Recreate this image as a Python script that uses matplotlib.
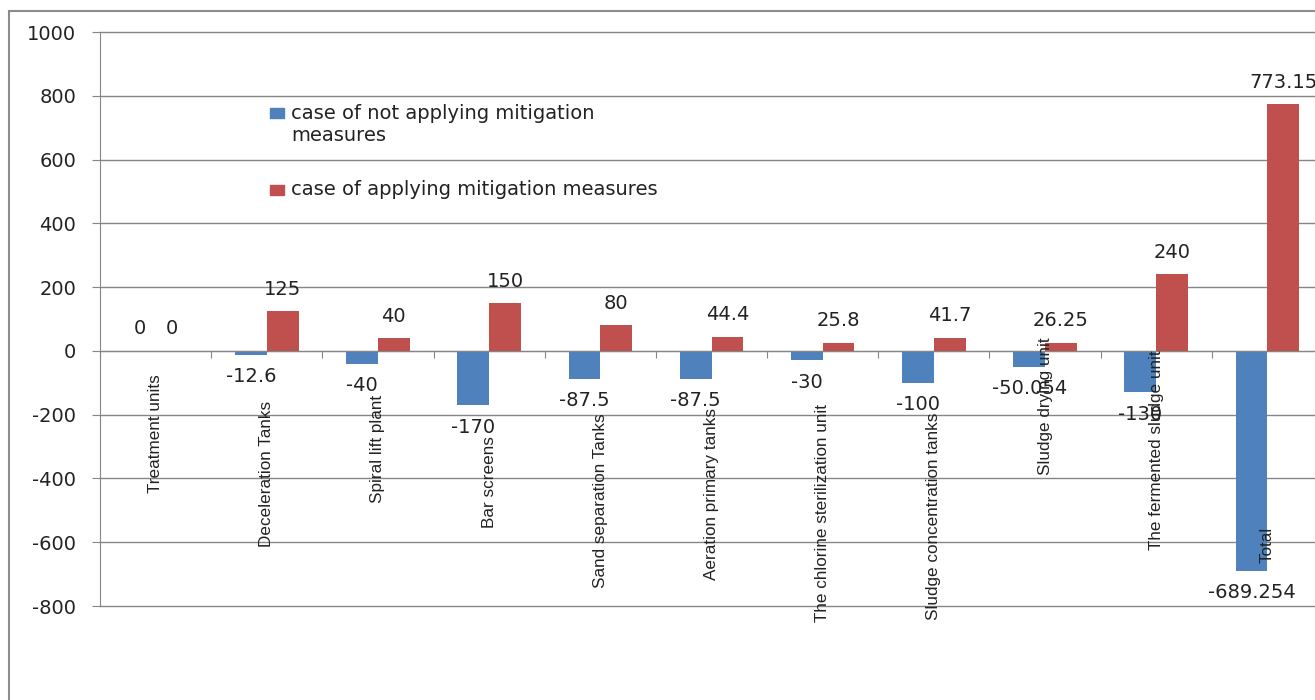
import numpy as np
import matplotlib
matplotlib.use("Agg")
from matplotlib import pyplot as plt
from matplotlib.patches import Rectangle

plt.rcParams['axes.unicode_minus'] = False
plt.rcParams['font.family'] = ['DejaVu Sans']

# data
units = ['Treatment units', 'Deceleration Tanks', 'Spiral lift plant', 'Bar screens',
         'Sand separation Tanks', 'Aeration primary tanks', 'The chlorine sterilization unit',
         'Sludge concentration tanks', 'Sludge drying unit', 'The fermented sludge unit', 'Total']
not_applying = [0, -12.6, -40, -170, -87.5, -87.5, -30, -100, -50.054, -130, -689.254]
applying = [0, 125, 40, 150, 80, 44.4, 25.8, 41.7, 26.25, 240, 773.15]
series_names = ['case of not applying mitigation\nmeasures', 'case of applying mitigation measures']

# where the rotated category labels end (bottom of text, data units)
label_bottom = [-445, -615, -477, -555, -743, -718, -850, -843, -389, -624, -665]

blue = '#4F81BD'
red = '#C0504D'
grey = '#868686'
txt = '#222222'

fig = plt.figure(figsize=(13.15, 7), dpi=100)
ax = fig.add_axes([100/1315, 1 - 606/700, 1223/1315, 574/700])

x = np.arange(len(units))
w = 1 / 3.5
b1 = ax.bar(x - w/2, not_applying, w, color=blue)
b2 = ax.bar(x + w/2, applying, w, color=red)
ax.bar_label(b1, fmt='{:g}', padding=9, fontsize=14, color=txt)
ax.bar_label(b2, fmt='{:g}', padding=9, fontsize=14, color=txt)

ax.set_xlim(-0.5, len(units) - 0.5)
ax.set_ylim(-800, 1000)
ax.set_yticks(np.arange(-800, 1001, 200))
ax.yaxis.grid(True, color=grey, lw=1)
for gl in ax.get_ygridlines():
    gl.set_clip_on(False)
ax.set_axisbelow(True)

for s in ['top', 'right']:
    ax.spines[s].set_visible(False)
ax.spines['left'].set_color(grey)
ax.spines['bottom'].set_position(('data', 0))
ax.spines['bottom'].set_color(grey)

ax.set_xticks(np.arange(-0.5, len(units)))
ax.set_xticklabels([])
ax.tick_params(axis='x', direction='out', length=5, color=grey)
ax.tick_params(axis='y', direction='out', length=6, color=grey, pad=11, labelsize=14, labelcolor=txt)

for i, name in enumerate(units):
    ax.text(x[i], label_bottom[i], name, rotation=90, ha='center', va='bottom',
            family=['Liberation Sans', 'DejaVu Sans'], fontsize=12.3, color=txt, clip_on=False)

# legend
ax.add_patch(Rectangle((0.139, 0.850), 0.0115, 0.0174, transform=ax.transAxes, color=blue))
ax.add_patch(Rectangle((0.139, 0.716), 0.0115, 0.0174, transform=ax.transAxes, color=red))
ax.text(0.156, 0.8746, series_names[0], transform=ax.transAxes, va='top', ha='left', fontsize=14, color=txt)
ax.text(0.156, 0.725, series_names[1], transform=ax.transAxes, va='center', ha='left', fontsize=14, color=txt)

# chart border
fig.add_artist(Rectangle((9/1315, -0.1), 1.2, (700 - 11)/700 + 0.1, transform=fig.transFigure,
                         fill=False, edgecolor='#8c8c8c', lw=1.5))

fig.savefig('out.png', dpi=100)
